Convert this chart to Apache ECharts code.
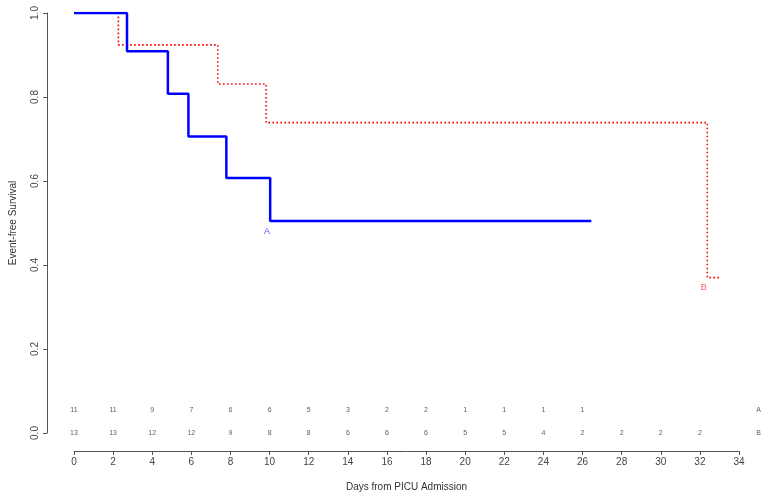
<!DOCTYPE html>
<html>
<head>
<meta charset="utf-8">
<script src="https://cdn.jsdelivr.net/npm/echarts@6/dist/echarts.min.js"></script>
<style>
  html, body { margin: 0; padding: 0; background: #fff; }
  #km { width: 769px; height: 498px; }
</style>
</head>
<body>
<div id="km"></div>
<script>
// Kaplan-Meier steps: [time, survival after the event]
var curveA = [[0, 1], [2.71, 0.909], [4.8, 0.808], [5.85, 0.706], [7.79, 0.607], [10.03, 0.505], [26.45, 0.505]]
var curveB = [[0, 1], [2.27, 0.924], [7.35, 0.831], [9.82, 0.739], [32.38, 0.370], [33.06, 0.370]]

// numbers at risk
var riskTimes = [0, 2, 4, 6, 8, 10, 12, 14, 16, 18, 20, 22, 24, 26, 28, 30, 32]
var riskA = [11, 11, 9, 7, 6, 6, 5, 3, 2, 2, 1, 1, 1, 1]
var riskB = [13, 13, 12, 12, 9, 8, 8, 6, 6, 6, 5, 5, 4, 2, 2, 2, 2]

var yTicks = [0, 0.2, 0.4, 0.6, 0.8, 1.0]

var font = 'Liberation Sans, Arial, sans-serif'
var rowY = { A: 0.055, B: 0 }

var riskData = []
riskA.forEach(function (n, i) { riskData.push([riskTimes[i], rowY.A, n]) })
riskB.forEach(function (n, i) { riskData.push([riskTimes[i], rowY.B, n]) })
riskData.push([35, rowY.A, 'A'])
riskData.push([35, rowY.B, 'B'])

var chart = echarts.init(document.getElementById('km'))
chart.setOption({
  animation: false,
  backgroundColor: '#fff',
  grid: { left: 71, right: 30, top: 13, bottom: 65 },
  xAxis: {
    type: 'value',
    min: 0,
    max: 34,
    interval: 2,
    offset: 18,
    name: 'Days from PICU Admission',
    nameLocation: 'middle',
    nameGap: 31,
    nameTextStyle: { fontFamily: font, fontSize: 10, color: '#333' },
    axisLine: { show: true, onZero: false, lineStyle: { color: '#555', width: 1 } },
    axisTick: { show: true, length: 4, lineStyle: { color: '#555' } },
    axisLabel: { fontFamily: font, fontSize: 10, color: '#444', margin: 6 },
    splitLine: { show: false }
  },
  yAxis: {
    type: 'value',
    min: yTicks[0],
    max: yTicks[yTicks.length - 1],
    interval: 0.2,
    offset: 27,
    name: 'Event-free Survival',
    nameLocation: 'middle',
    nameGap: 29,
    nameTextStyle: { fontFamily: font, fontSize: 10, color: '#333' },
    axisLine: { show: true, onZero: false, lineStyle: { color: '#555', width: 1 } },
    axisTick: { show: true, length: 4, lineStyle: { color: '#555' } },
    axisLabel: {
      fontFamily: font, fontSize: 10, color: '#444', rotate: 90, margin: 7,
      formatter: function (v) { return v.toFixed(1) }
    },
    splitLine: { show: false }
  },
  series: [
    {
      name: 'B',
      type: 'line',
      step: 'end',
      data: curveB,
      showSymbol: false,
      lineStyle: { color: '#ff0000', width: 1.6, type: [1.6, 2.4] },
      z: 2
    },
    {
      name: 'A',
      type: 'line',
      step: 'end',
      data: curveA,
      showSymbol: false,
      lineStyle: { color: '#0000ff', width: 2.5 },
      z: 3
    },
    {
      // curve tags
      type: 'scatter',
      symbolSize: 0,
      data: [
        { value: [9.87, 0.479], label: { formatter: 'A', color: '#3030ff' } },
        { value: [32.2, 0.346], label: { formatter: 'B', color: '#ff3030' } }
      ],
      label: { show: true, position: 'inside', fontFamily: font, fontSize: 9 },
      z: 4
    },
    {
      // numbers at risk
      type: 'scatter',
      symbolSize: 0,
      clip: false,
      data: riskData,
      label: {
        show: true,
        position: 'inside',
        fontFamily: font,
        fontSize: 7,
        color: '#333',
        formatter: function (p) { return p.value[2] }
      },
      z: 4
    }
  ]
})
</script>
</body>
</html>
